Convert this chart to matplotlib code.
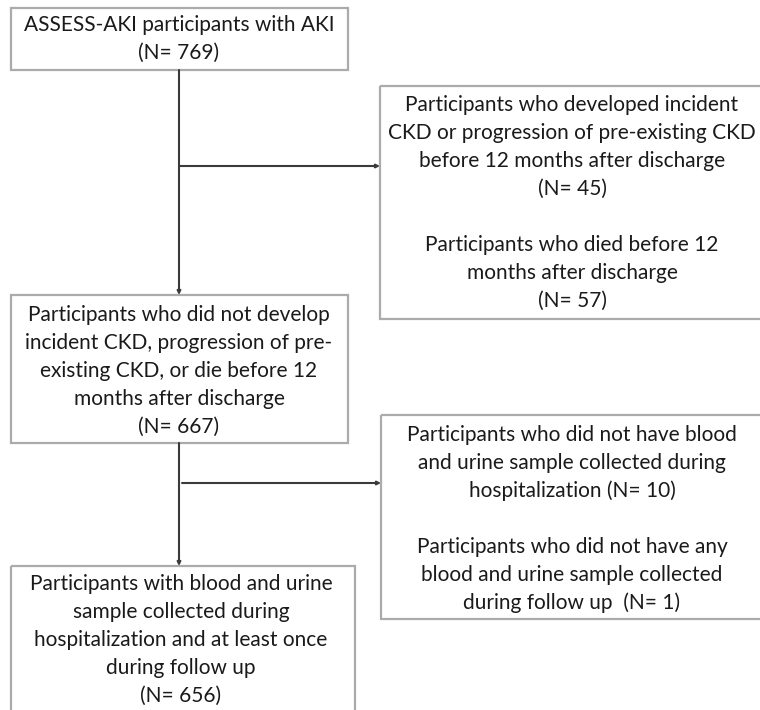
import matplotlib.pyplot as plt
from matplotlib.patches import Rectangle

# box texts (one entry per line, "" = blank line)
box_start = ["ASSESS-AKI participants with AKI", "(N= 769)"]
box_excl1 = [
    "Participants who developed incident",
    "CKD or progression of pre-existing CKD",
    "before 12 months after discharge",
    "(N= 45)",
    "",
    "Participants who died before 12",
    "months after discharge",
    "(N= 57)",
]
box_mid = [
    "Participants who did not develop",
    "incident CKD, progression of pre-",
    "existing CKD, or die before 12",
    "months after discharge",
    "(N= 667)",
]
box_excl2 = [
    "Participants who did not have blood",
    "and urine sample collected during",
    "hospitalization (N= 10)",
    "",
    "Participants who did not have any",
    "blood and urine sample collected",
    "during follow up  (N= 1)",
]
box_final = [
    "Participants with blood and urine",
    "sample collected during",
    "hospitalization and at least once",
    "during follow up",
    "(N= 656)",
]

W, H = 760, 710
LINE_H = 28
EDGE = "#ababab"
ARROW = "#3a3a3a"
FONT = ["Lato", "DejaVu Sans"]
FS = 15

fig = plt.figure(figsize=(W / 100, H / 100), dpi=100)
ax = fig.add_axes([0, 0, 1, 1])
ax.set_xlim(0, W)
ax.set_ylim(H, 0)
ax.axis("off")


def draw_box(x0, y0, x1, y1, lines, cx, first_y):
    ax.add_patch(Rectangle((x0, y0), x1 - x0, y1 - y0, fill=False,
                           edgecolor=EDGE, linewidth=1.6, clip_on=False))
    for i, line in enumerate(lines):
        if line:
            ax.text(cx, first_y + i * LINE_H, line, ha="center", va="center",
                    fontsize=FS, family=FONT, color="#1a1a1a")


def arrow(x0, y0, x1, y1):
    ax.annotate("", xy=(x1, y1), xytext=(x0, y0),
                arrowprops=dict(arrowstyle="-|>", color=ARROW, lw=1.5,
                                mutation_scale=5, shrinkA=0, shrinkB=0))


draw_box(11, 8, 348, 70, box_start, 179, 25)
draw_box(380, 86, 770, 319, box_excl1, 572, 105)
draw_box(11, 295, 348, 443, box_mid, 179, 315)
draw_box(381, 415, 770, 619, box_excl2, 572, 435)
draw_box(11, 566, 355, 725, box_final, 181, 584)

arrow(179, 70, 179, 295)
arrow(179, 166, 380, 166)
arrow(179, 443, 179, 566)
arrow(182, 483, 381, 483)

fig.savefig("out.png", dpi=100)
